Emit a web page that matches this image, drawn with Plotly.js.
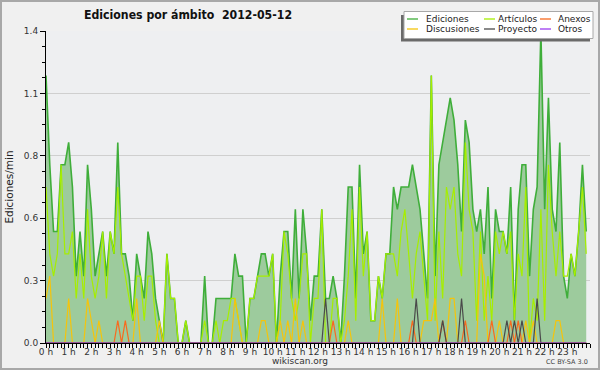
<!DOCTYPE html>
<html>
<head>
<meta charset="utf-8">
<script src="https://cdn.plot.ly/plotly-3.0.1.min.js"></script>
<style>
  html, body { margin:0; padding:0; background:#f0f0f0; }
  #wrap { position:relative; width:600px; height:370px; }
  #chart { width:600px; height:370px; }
  #frame { position:absolute; left:0; top:0; width:600px; height:370px; box-sizing:border-box; border:2px solid #a8a8a8; pointer-events:none; }
</style>
</head>
<body>
<div id="wrap"><div id="chart"></div><div id="frame"></div></div>
<script>
// ---- data: edits per minute, 10-minute bins, 2012-05-12 ----
const binMinutes = 10;
const hourTickValues = [0,1,2,3,4,5,6,7,8,9,10,11,12,13,14,15,16,17,18,19,20,21,22,23];
const hourTickLabels = ["0 h","1 h","2 h","3 h","4 h","5 h","6 h","7 h","8 h","9 h","10 h","11 h","12 h","13 h","14 h","15 h","16 h","17 h","18 h","19 h","20 h","21 h","22 h","23 h"];
const yTickValues = [0, 0.28, 0.56, 0.84, 1.12, 1.4];
const yTickLabels = ["0.0","0.3","0.6","0.8","1.1","1.4"];

const ediciones = [
  1.2,0.8,0.5,0.5,0.8,0.8,0.9,0.7,0.3,0.5,0.3,0.8,
  0.6,0.3,0.4,0.5,0.3,0.5,0.4,0.9,0.4,0.4,0.3,0.1,
  0.4,0.3,0.2,0.5,0.4,0.2,0.1,0,0.4,0.2,0.2,0,
  0,0.1,0,0,0,0,0.3,0,0,0.2,0.2,0.2,
  0.2,0.2,0.4,0.3,0.3,0,0.2,0.2,0.3,0.4,0.4,0.3,
  0.4,0,0.3,0.5,0.5,0.2,0.6,0.2,0.6,0.4,0.1,0.3,
  0.3,0.6,0.2,0.2,0.3,0.2,0,0.3,0.7,0.7,0.2,0.8,
  0.4,0.5,0.1,0.1,0.3,0.2,0.4,0.4,0.7,0.6,0.7,0.7,
  0.7,0.8,0.7,0.6,0.4,0.2,1.2,0.3,0.8,0.9,1.0,1.1,
  1.0,0.8,0.5,1.0,0.9,0.6,0.5,0.6,0.4,0.7,0.2,0.6,
  0.5,0.5,0.4,0.7,0.1,0.6,0.8,0.8,0.3,0.6,0.7,1.4,
  0.6,1.1,0.6,0.5,0.9,0.3,0.2,0.4,0.3,0.5,0.8,0.5
];
const articulos = [
  0.7,0.4,0.3,0.4,0.8,0.4,0.4,0.5,0.2,0.4,0.2,0.6,
  0.3,0.2,0.3,0.5,0.2,0.5,0.4,0.7,0.4,0.3,0.2,0.1,
  0.3,0.3,0.1,0.3,0.3,0.1,0,0,0.4,0.2,0.2,0,
  0,0.1,0,0,0,0,0.1,0,0,0.1,0,0.1,
  0.1,0.2,0.2,0.1,0,0,0.2,0.2,0.3,0.3,0.3,0.3,
  0.4,0,0.1,0.5,0.4,0.2,0.1,0.2,0.4,0.4,0,0.2,
  0.2,0.6,0,0,0.2,0.2,0,0.1,0.3,0.6,0.1,0.7,
  0.3,0.5,0.1,0.1,0.3,0.2,0.4,0.4,0.4,0.3,0.5,0.6,
  0.4,0.2,0.4,0.5,0.3,0.1,1.2,0.1,0.5,0.2,0.7,0.6,
  0.7,0.4,0.3,0.9,0.6,0.5,0.1,0.5,0.1,0.3,0.1,0.5,
  0.4,0.5,0.4,0.5,0.1,0.4,0.3,0.7,0,0.2,0.1,0.6,
  0.1,0.8,0.5,0.3,0.5,0.3,0.3,0.4,0.3,0.5,0.7,0.4
];
const discusiones = [
  0.2,0.3,0,0,0,0,0.2,0,0,0,0,0.2,
  0.1,0,0.1,0,0,0,0,0,0,0,0,0,
  0.2,0,0,0,0,0,0.1,0,0,0,0,0,
  0,0,0,0,0,0,0,0,0,0,0,0,
  0,0,0.2,0.1,0,0,0,0,0,0.1,0.1,0,
  0,0,0.1,0,0.1,0,0.2,0,0.1,0,0,0,
  0,0,0,0,0,0,0,0,0.1,0,0,0,
  0,0,0,0,0,0.2,0,0,0,0.2,0,0,
  0,0,0,0,0.1,0.1,0.1,0.2,0,0,0,0.2,
  0.2,0,0,0,0,0,0,0.4,0.3,0,0,0,
  0.1,0,0,0,0,0,0,0.1,0,0.1,0,0,
  0,0,0,0.1,0.1,0,0,0,0,0,0,0
];
const anexos = [
  0,0,0,0,0,0,0,0,0,0,0,0,
  0,0,0,0,0,0,0,0.1,0,0.1,0,0,
  0,0,0,0,0,0,0,0,0,0,0,0,
  0,0,0,0,0,0,0,0,0,0,0,0,
  0,0,0,0,0,0,0,0,0,0,0,0,
  0,0,0,0,0,0,0,0,0,0,0,0,
  0,0,0,0,0.1,0,0,0,0,0,0,0,
  0,0,0,0,0,0,0,0,0,0,0,0,
  0,0.1,0,0,0,0,0,0,0,0.1,0,0,
  0,0,0,0.1,0,0,0,0,0,0,0.1,0,
  0,0,0,0.1,0,0.1,0,0,0,0,0,0,
  0,0,0,0,0,0,0,0,0,0,0,0
];
const proyecto = [
  0,0,0,0,0,0,0,0,0,0,0,0,
  0,0,0,0,0,0,0,0,0,0,0,0,
  0,0,0,0,0,0,0,0,0,0,0,0,
  0,0,0,0,0,0,0,0,0,0,0,0,
  0,0,0,0,0,0,0,0,0,0,0,0,
  0,0,0,0,0,0,0,0,0,0,0,0,
  0,0,0.2,0,0,0,0,0,0,0,0,0,
  0,0,0,0,0,0,0,0,0,0,0,0,
  0,0,0.2,0,0,0,0,0,0,0.1,0,0,
  0,0,0.2,0,0,0,0,0,0,0,0,0,
  0,0,0.1,0,0.1,0,0.1,0,0,0,0.2,0,
  0,0,0,0,0,0,0,0,0,0,0,0
];
const otros = [
  0,0,0,0,0,0,0,0,0,0,0,0,
  0,0,0,0,0,0,0,0,0,0,0,0,
  0,0,0,0,0,0,0,0,0,0,0,0,
  0,0,0,0,0,0,0,0,0,0,0,0,
  0,0,0,0,0,0,0,0,0,0,0,0,
  0,0,0,0,0,0,0,0,0,0,0,0,
  0,0,0,0,0,0,0,0,0,0,0,0,
  0,0,0,0,0,0,0,0,0,0,0,0,
  0,0,0,0,0,0,0,0,0,0,0,0,
  0,0,0,0,0,0,0,0,0,0,0,0,
  0,0,0,0,0,0,0,0,0,0,0,0,
  0,0,0,0,0,0,0,0,0,0,0,0
];

const seriesNames = ["Ediciones","Artículos","Anexos","Discusiones","Proyecto","Otros"];
const seriesColors = ["#3fae3a","#a6ee00","#f86a1e","#f5c40c","#4a4a4a","#9b3cf0"];
const seriesData = [ediciones, articulos, anexos, discusiones, proyecto, otros];

// time axis in hours
const times = ediciones.map((_, i) => i * binMinutes / 60);

// draw order: Ediciones (filled), Artículos, Discusiones, Anexos, Proyecto, Otros
const drawOrder = [0, 1, 3, 2, 4, 5];
const traces = drawOrder.map(k => {
  const t = {
    type: 'scatter', mode: 'lines', x: times, y: seriesData[k],
    name: seriesNames[k], showlegend: false,
    line: { color: seriesColors[k], width: k === 0 ? 1.6 : 1.2 },
    hoverinfo: 'skip'
  };
  if (k === 0) { t.fill = 'tozeroy'; t.fillcolor = '#9dcb9d'; }
  return t;
});

// plot-area geometry helpers for legend placement
const L = 46, R = 590, T = 31, B = 343;
const px = x => (x - L) / (R - L);
const py = y => (B - y) / (B - T);

const shapes = [
  { type:'rect', xref:'paper', yref:'paper', x0:px(401), x1:px(590), y0:py(41.5), y1:py(15), fillcolor:'#6a6a6a', line:{width:0}, layer:'above' },
  { type:'rect', xref:'paper', yref:'paper', x0:px(404), x1:px(593), y0:py(38.5), y1:py(11.5), fillcolor:'#ffffff', line:{color:'#a8a8a8', width:1}, layer:'above' }
];
const annotations = [];
const legendCols = [407, 484, 540];
const legendTextX = [424, 496, 556];
const legendRows = [19, 29];
// legend columns: Ediciones/Discusiones, Artículos/Proyecto, Anexos/Otros
const legendLayout = [[0,3],[1,4],[2,5]];
legendLayout.forEach((col, c) => {
  col.forEach((k, r) => {
    shapes.push({ type:'line', xref:'paper', yref:'paper', x0:px(legendCols[c]), x1:px(legendCols[c]+11), y0:py(legendRows[r]), y1:py(legendRows[r]), line:{color:seriesColors[k], width:1.3}, layer:'above' });
    annotations.push({ xref:'paper', yref:'paper', x:px(legendTextX[c]), y:py(legendRows[r]), xanchor:'left', yanchor:'middle', text:seriesNames[k], showarrow:false, font:{family:'DejaVu Sans', size:9, color:'#222'} });
  });
});
annotations.push({ xref:'paper', yref:'paper', x:px(300), y:py(361), xanchor:'center', yanchor:'middle', text:'wikiscan.org', showarrow:false, font:{family:'DejaVu Sans', size:9, color:'#333'} });
annotations.push({ xref:'paper', yref:'paper', x:px(590), y:py(362), xanchor:'right', yanchor:'middle', text:'CC BY-SA 3.0', showarrow:false, font:{family:'DejaVu Sans', size:6.5, color:'#444'} });

const layout = {
  width: 600, height: 370,
  margin: { l: L, r: 600 - R, t: T, b: 370 - B, pad: 0 },
  paper_bgcolor: '#f0f0f0', plot_bgcolor: '#eeeff1',
  showlegend: false,
  title: { text: 'Ediciones por ámbito  2012-05-12', x: 188/600, xanchor: 'center', xref: 'container', y: 1 - 15/370, yanchor: 'middle', yref: 'container',
           font: { family: 'DejaVu Sans Condensed, DejaVu Sans', size: 12.2, color: '#111', weight: 'bold' } },
  xaxis: {
    range: [0, 24], tickmode: 'array', tickvals: hourTickValues, ticktext: hourTickLabels,
    ticks: 'outside', ticklen: 4, tickcolor: '#000', tickwidth: 1, ticklabelstandoff: -4,
    showline: true, linecolor: '#000', linewidth: 1, showgrid: false, zeroline: false,
    tickfont: { family: 'DejaVu Sans', size: 9, color: '#333' },
    minor: { tickmode: 'linear', tick0: 0, dtick: 1/6, ticks: 'outside', ticklen: 4, tickcolor: '#000', showgrid: false }
  },
  yaxis: {
    range: [0, 1.4], tickmode: 'array', tickvals: yTickValues, ticktext: yTickLabels,
    ticks: 'outside', ticklen: 5, tickcolor: '#000', tickwidth: 1,
    showline: true, linecolor: '#000', linewidth: 1, showgrid: true, gridcolor: '#cfcfcf', gridwidth: 1, zeroline: false,
    tickfont: { family: 'DejaVu Sans', size: 9, color: '#333' },
    minor: { tickmode: 'linear', tick0: 0, dtick: 0.07, ticks: 'outside', ticklen: 3, tickcolor: '#000', showgrid: false },
    title: { text: 'Ediciones/min', standoff: 8, font: { family: 'DejaVu Sans', size: 10.5, color: '#222' } },
    automargin: false
  },
  shapes: shapes,
  annotations: annotations
};

Plotly.newPlot('chart', traces, layout, { staticPlot: true, displayModeBar: false });
</script>
</body>
</html>
